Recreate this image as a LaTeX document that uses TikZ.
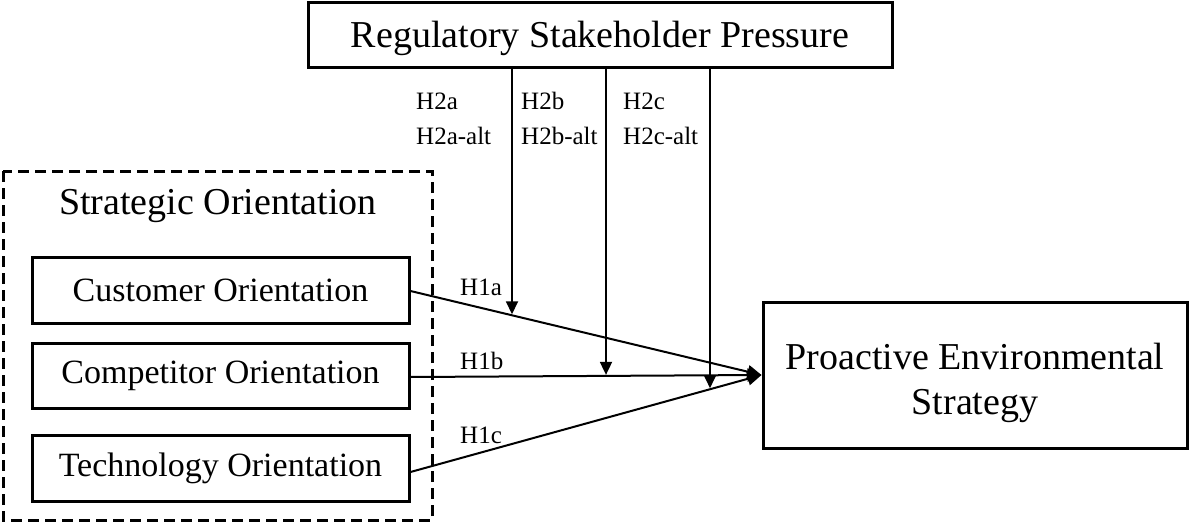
\documentclass[tikz,border=0pt]{standalone}
\usepackage{fontspec}
\setmainfont{Liberation Serif}
\usetikzlibrary{arrows.meta,intersections,calc}
\begin{document}
\begin{tikzpicture}[x=1pt,y=-1pt,
  box/.style={draw,line width=3pt,inner sep=0pt,align=center},
  bigtext/.style={font=\fontsize{38}{44}\selectfont},
  midtext/.style={font=\fontsize{34}{40}\selectfont},
  hlabel/.style={font=\fontsize{25}{30}\selectfont,inner sep=0pt,anchor=west},
  link/.style={line width=2pt,-{Triangle[length=14pt,width=13pt]}},
  mod/.style={line width=1.8pt,-{Triangle[length=13pt,width=12pt]},shorten >=1pt}]
\useasboundingbox (0,0) rectangle (1192,522);

% moderator on top
\node[box,bigtext,minimum width=584pt,minimum height=65pt] (top) at (600,34.5)
  {\raisebox{-4pt}[\height][\depth]{Regulatory Stakeholder Pressure}};

% strategic orientation group
\draw[line width=3pt,dash pattern=on 11pt off 6pt] (3,171) rectangle (432,520);
\node[bigtext,inner sep=0pt] (so) at (218,206) {Strategic Orientation};
\node[box,midtext,minimum width=377pt,minimum height=66pt] (cust) at (220.5,290) {Customer Orientation};
\node[box,midtext,minimum width=377pt,minimum height=65pt] (comp) at (220.5,375.5) {Competitor Orientation};
\node[box,midtext,minimum width=377pt,minimum height=66pt] (tech) at (220.5,468) {Technology Orientation};

% outcome
\node[box,bigtext,minimum width=424pt,minimum height=146pt] (pes) at (975,375)
  {\raisebox{-8pt}[\height][\depth]{\parbox{400pt}{\centering Proactive Environmental\\[1pt]Strategy}}};

% direct effects
\draw[link,name path=la] ($(cust.east)+(0,1)$) -- (pes.west);
\draw[link,name path=lb] ($(comp.east)+(0,1.5)$) -- (pes.west);
\draw[link,name path=lc] ($(tech.east)+(0,4)$) -- (pes.west);
\node[hlabel] (h1a) at (460,287) {H1a};
\node[hlabel] (h1b) at (460,361) {H1b};
\node[hlabel] (h1c) at (460,435) {H1c};

% moderating effects
\path[name path=va] (512,60) -- (512,520);
\path[name path=vb] (606,60) -- (606,520);
\path[name path=vc] (710,60) -- (710,520);
\path[name intersections={of=va and la,by=pa}];
\path[name intersections={of=vb and lb,by=pb}];
\path[name intersections={of=vc and lc,by=pc}];
\draw[mod] (top.south -| pa) -- (pa);
\draw[mod] (top.south -| pb) -- (pb);
\draw[mod] (top.south -| pc) -- (pc);

\node[hlabel] (h2a) at (416,101) {H2a};
\node[hlabel] (h2aa) at (416,136) {H2a-alt};
\node[hlabel] (h2b) at (521,101) {H2b};
\node[hlabel] (h2ba) at (521,136) {H2b-alt};
\node[hlabel] (h2c) at (623,101) {H2c};
\node[hlabel] (h2ca) at (623,136) {H2c-alt};
\end{tikzpicture}
\end{document}
